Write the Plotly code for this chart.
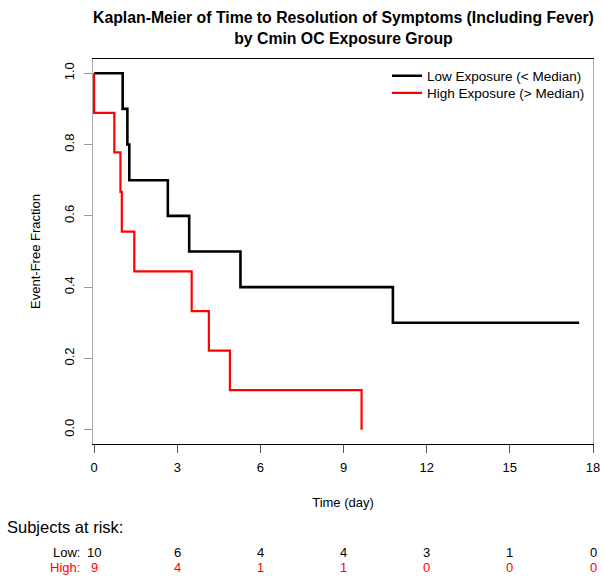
import plotly.graph_objects as go

# Kaplan-Meier step estimates (time in days, event-free fraction)
low_time = [0, 1.03, 1.2, 1.27, 2.66, 3.43, 5.28, 10.78, 17.5]
low_surv = [1.0, 0.9, 0.8, 0.7, 0.6, 0.5, 0.4, 0.3, 0.3]

high_time = [0, 0, 0.73, 0.95, 1.0, 1.45, 3.52, 4.14, 4.9, 9.65]
high_surv = [1.0, 0.889, 0.778, 0.667, 0.556, 0.444, 0.333, 0.222, 0.111, 0.0]

# Number at risk table
risk_times = [0, 3, 6, 9, 12, 15, 18]
low_at_risk = [10, 6, 4, 4, 3, 1, 0]
high_at_risk = [9, 4, 1, 1, 0, 0, 0]

x_ticks = [0, 3, 6, 9, 12, 15, 18]
y_ticks = [0.0, 0.2, 0.4, 0.6, 0.8, 1.0]
y_tick_text = ["0.0", "0.2", "0.4", "0.6", "0.8", "1.0"]

FONT = "Liberation Sans, Arial, sans-serif"
RED = "#ff0000"

W, H = 603, 576
L, R, T, B = 93, 10, 59, 132
plot_h = H - T - B
plot_w = W - L - R


def py(pixel_y):
    """Paper y coordinate for a pixel row measured from the top."""
    return (H - B - pixel_y) / plot_h


def px(pixel_x):
    return (pixel_x - L) / plot_w


fig = go.Figure()
fig.add_trace(go.Scatter(
    x=low_time, y=low_surv, mode="lines", line_shape="hv",
    line=dict(color="black", width=2.6), name="Low Exposure (< Median)",
    legend="legend"))
fig.add_trace(go.Scatter(
    x=high_time, y=high_surv, mode="lines", line_shape="hv",
    line=dict(color=RED, width=2.2), name="High Exposure (> Median)",
    legend="legend2"))

annotations = [
    dict(text="<b>Kaplan-Meier of Time to Resolution of Symptoms (Including Fever)</b><br><b>by Cmin OC Exposure Group</b>",
         x=0.5, xref="paper", y=py(28), yref="paper", showarrow=False,
         font=dict(family=FONT, size=15.8, color="black"), xanchor="center", yanchor="middle"),
    dict(text="Subjects at risk:", x=px(5), xref="paper", y=py(527), yref="paper",
         showarrow=False, xanchor="left", yanchor="middle",
         font=dict(family=FONT, size=16.5, color="black")),
    dict(text="Low:", x=px(81), xref="paper", y=py(552), yref="paper",
         showarrow=False, xanchor="right", yanchor="middle", borderpad=0,
         font=dict(family=FONT, size=13, color="black")),
    dict(text="High:", x=px(81), xref="paper", y=py(567), yref="paper",
         showarrow=False, xanchor="right", yanchor="middle", borderpad=0,
         font=dict(family=FONT, size=13, color=RED)),
]
for t, n in zip(risk_times, low_at_risk):
    annotations.append(dict(text=str(n), x=t, xref="x", y=py(552), yref="paper",
                            showarrow=False, xanchor="center", yanchor="middle",
                            borderpad=0,
                            font=dict(family=FONT, size=13, color="black")))
for t, n in zip(risk_times, high_at_risk):
    annotations.append(dict(text=str(n), x=t, xref="x", y=py(567), yref="paper",
                            showarrow=False, xanchor="center", yanchor="middle",
                            borderpad=0,
                            font=dict(family=FONT, size=13, color=RED)))

legend_style = dict(xref="paper", yref="paper", xanchor="left", yanchor="middle",
                    bgcolor="rgba(0,0,0,0)", borderwidth=0, itemwidth=30,
                    font=dict(family=FONT, size=13.5, color="black"))

fig.update_layout(
    width=W, height=H,
    margin=dict(l=L, r=R, t=T, b=B, pad=0, autoexpand=False),
    paper_bgcolor="white", plot_bgcolor="white",
    font=dict(family=FONT, size=13, color="black"),
    showlegend=True,
    legend=dict(x=px(387), y=py(76), **legend_style),
    legend2=dict(x=px(387), y=py(93), **legend_style),
    annotations=annotations,
    xaxis=dict(range=[-0.04, 18], tickvals=x_ticks, ticks="outside", ticklen=8,
               tickcolor="#555555", showline=True, linecolor="black", linewidth=1.3,
               mirror=True, showgrid=False, zeroline=False, automargin=False,
               tickfont=dict(size=13), ticklabelstandoff=3, layer="below traces",
               title=dict(text="Time (day)", standoff=24, font=dict(size=13))),
    yaxis=dict(range=[-0.04, 1.04], tickvals=y_ticks, ticktext=y_tick_text,
               ticks="outside", ticklen=8, tickcolor="#999999", tickangle=-90,
               showline=True, linecolor="#aaaaaa", linewidth=1.3, mirror=True,
               showgrid=False, zeroline=False, automargin=False,
               tickfont=dict(size=13), ticklabelstandoff=5,
               layer="below traces",
               title=dict(text="Event-Free Fraction", standoff=18, font=dict(size=13))),
)

fig.write_html("out.html")
